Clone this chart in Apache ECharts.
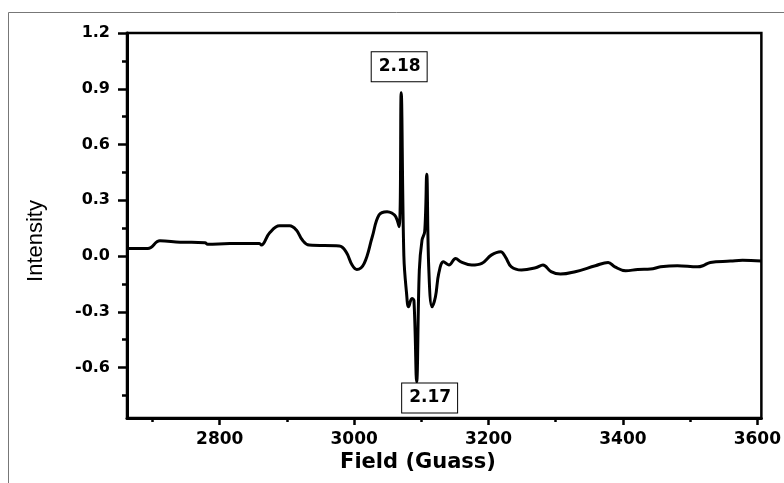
<!DOCTYPE html>
<html>
<head>
<meta charset="utf-8">
<script src="https://cdn.jsdelivr.net/npm/echarts@6/dist/echarts.min.js"></script>
<style>
  html, body { margin: 0; padding: 0; background: #fff; }
  #main { width: 784px; height: 483px; }
</style>
</head>
<body>
<div id="main"></div>
<script>
// field values (Gauss) and intensities
var fieldX = [2662, 2693, 2711, 2741, 2778, 2782, 2815, 2859, 2862, 2874,
  2889, 2904, 2914, 2923, 2933, 2978, 2988, 2997, 3004, 3015,
  3027, 3037, 3049, 3056, 3062, 3067, 3070, 3074, 3078, 3081,
  3086, 3089, 3093, 3097, 3101, 3105, 3108, 3111, 3116, 3121,
  3126, 3133, 3141, 3151, 3159, 3175, 3190, 3204, 3218, 3225,
  3234, 3249, 3270, 3281, 3293, 3307, 3329, 3359, 3378, 3388,
  3404, 3422, 3441, 3456, 3481, 3511, 3519, 3530, 3560, 3578, 3606];
var intensity = [0.041, 0.041, 0.082, 0.075, 0.072, 0.063, 0.068, 0.068, 0.059, 0.124,
  0.163, 0.163, 0.14, 0.086, 0.059, 0.054, 0.023, -0.048, -0.072, -0.039,
  0.104, 0.221, 0.239, 0.232, 0.212, 0.158, 0.879, 0.0, -0.2, -0.273,
  -0.228, -0.24, -0.677, -0.075, 0.086, 0.131, 0.44, -0.058, -0.273, -0.219,
  -0.092, -0.031, -0.048, -0.013, -0.031, -0.048, -0.039, 0.005, 0.023, -0.004,
  -0.058, -0.075, -0.063, -0.048, -0.084, -0.097, -0.084, -0.052, -0.034, -0.058,
  -0.079, -0.072, -0.070, -0.058, -0.052, -0.058, -0.052, -0.034, -0.027, -0.022, -0.027];

var xTicks = [2800, 3000, 3200, 3400, 3600];
var xMinorTicks = [2700, 2900, 3100, 3300, 3500];
var yTicks = [-0.6, -0.3, 0.0, 0.3, 0.6, 0.9, 1.2];
var yMinorTicks = [-0.75, -0.45, -0.15, 0.15, 0.45, 0.75, 1.05];

// g-value annotations
var peakMarks = [
  { name: '2.18', coord: [3070, 0.879], offset: [-2, -26] },
  { name: '2.17', coord: [3093, -0.677], offset: [13, 16] }
];

var chart = echarts.init(document.getElementById('main'));

var xMin = 2662, xMax = 3606, yMin = -0.871, yMax = 1.2;
var tickFont = 'DejaVu Sans';

var data = fieldX.map(function (f, i) { return [f, intensity[i]]; });

option = {
  backgroundColor: '#fff',
  animation: false,
  grid: {
    left: 127,
    top: 33,
    width: 637,
    height: 385,
    show: true,
    borderColor: '#000',
    borderWidth: 2.5
  },
  xAxis: [
    {
      type: 'value',
      min: xMin,
      max: xMax,
      position: 'bottom',
      axisLine: { onZero: false, lineStyle: { color: '#000', width: 3 } },
      axisTick: { customValues: xTicks, length: 7, lineStyle: { color: '#000', width: 2.5 } },
      axisLabel: {
        customValues: xTicks,
        margin: 13,
        color: '#000',
        fontFamily: tickFont,
        fontWeight: 'bold',
        fontSize: 17,
        formatter: function (v) { return String(v); }
      },
      splitLine: { show: false }
    },
    {
      type: 'value',
      min: xMin,
      max: xMax,
      position: 'bottom',
      axisLine: { show: false, onZero: false },
      axisTick: { customValues: xMinorTicks, length: 4, lineStyle: { color: '#000', width: 2.5 } },
      axisLabel: { show: false },
      splitLine: { show: false }
    }
  ],
  yAxis: [
    {
      type: 'value',
      min: yMin,
      max: yMax,
      position: 'left',
      axisLine: { show: true, onZero: false, lineStyle: { color: '#000', width: 3 } },
      axisTick: { show: true, customValues: yTicks, length: 9, lineStyle: { color: '#000', width: 2.5 } },
      axisLabel: {
        customValues: yTicks,
        margin: 17,
        color: '#000',
        fontFamily: tickFont,
        fontWeight: 'bold',
        fontSize: 16,
        formatter: function (v) { return v.toFixed(1); }
      },
      splitLine: { show: false }
    },
    {
      type: 'value',
      min: yMin,
      max: yMax,
      position: 'left',
      axisLine: { show: false, onZero: false },
      axisTick: { show: true, customValues: yMinorTicks, length: 5, lineStyle: { color: '#000', width: 2.5 } },
      axisLabel: { show: false },
      splitLine: { show: false }
    }
  ],
  series: [
    {
      type: 'line',
      xAxisIndex: 0,
      yAxisIndex: 0,
      data: data,
      symbol: 'none',
      smooth: 0.4,
      lineStyle: { color: '#000', width: 3, join: 'round' },
      markPoint: {
        symbol: 'circle',
        symbolSize: 0,
        data: peakMarks.map(function (m) {
          return {
            coord: m.coord,
            label: {
              show: true,
              formatter: m.name,
              offset: m.offset,
              color: '#000',
              fontFamily: tickFont,
              fontWeight: 'bold',
              fontSize: 17,
              lineHeight: 17,
              backgroundColor: '#fff',
              borderColor: '#000',
              borderWidth: 1,
              padding: [6, 6, 6, 7]
            }
          };
        })
      }
    }
  ],
  graphic: [
    {
      type: 'rect',
      shape: { x: 8.5, y: 12.5, width: 900, height: 600 },
      style: { fill: 'none', stroke: '#777', lineWidth: 1 },
      silent: true
    },
    {
      type: 'text',
      x: 418,
      y: 463,
      style: {
        text: 'Field (Guass)',
        fill: '#000',
        font: 'bold 21px "DejaVu Sans"',
        align: 'center',
        verticalAlign: 'middle'
      }
    },
    {
      type: 'text',
      x: 36,
      y: 241,
      rotation: Math.PI / 2,
      style: {
        text: 'Intensity',
        fill: '#000',
        font: '22px "Liberation Sans", Arial',
        align: 'center',
        verticalAlign: 'middle'
      }
    }
  ]
};

option && chart.setOption(option);
</script>
</body>
</html>
